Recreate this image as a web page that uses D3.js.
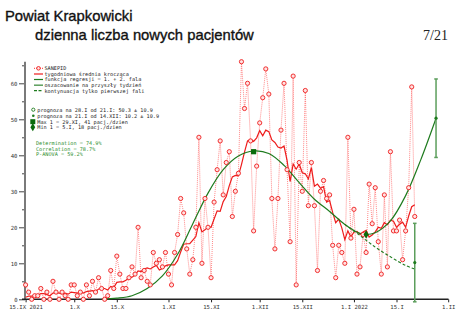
<!DOCTYPE html>
<html>
<head>
<meta charset="utf-8">
<script src="https://cdn.jsdelivr.net/npm/d3@7"></script>
<style>
  html, body { margin: 0; padding: 0; background: #fff; }
  svg { display: block; }
</style>
</head>
<body>
<svg id="chart" width="468" height="328"></svg>
<script>
// Daily new patients reported by SANEPID, starting 15.IX 2021 (one value per day)
const startDate = new Date(2021, 8, 15);
const dailyCases = [
  4, 2, 0, 1, 1, 3, 0, 2, 0, 5, 2, 0, 2, 1, 0, 4, 4, 1, 2, 0,
  4, 1, 5, 2, 6, 3, 0, 1, 8, 3, 12, 7, 3, 3, 6, 9, 7, 20, 6, 8,
  5, 4, 13, 10, 11, 9, 13, 7, 4, 13, 18, 28, 24, 14, 7, 11, 20, 45, 10, 28,
  20, 6, 27, 36, 44, 29, 38, 41, 23, 30, 35, 66, 53, 60, 44, 19, 37, 49, 56, 64,
  57, 28, 14, 28, 47, 60, 36, 16, 62, 4, 38, 30, 58, 26, 38, 26, 8, 30, 33, 28,
  29, 15, 6, 15, 13, 10, 45, 17, 25, 7, 9, 18, 13, 32, 21, 31, 16, 7, 29, 9,
  41, 19, 19, 22, 11, 19, 31, 59, 23
];

// Regression curve (first + second wave), day offsets from 15.IX and values
const regressionDays   = [25, 30, 35, 40, 45, 50, 55, 60, 65, 70, 75, 80, 85, 90, 95, 100, 105, 110, 112, 115, 120, 125, 130, 135];
const regressionValues = [0, 0.3, 1.0, 3.0, 6.5, 12.5, 21, 29.5, 36, 39.8, 41.2, 40.5, 37.2, 32.4, 27.8, 24.4, 20.8, 18.3, 18.0, 18.5, 21.8, 28.8, 38.8, 50.3];

// Continuation of the first wave only
const firstWaveDays   = [105, 110, 115, 120, 125, 128];
const firstWaveValues = [20.8, 17.7, 14.5, 11.8, 9.4, 8.4];

// Forecasts with their uncertainty
const forecastDates  = [new Date(2022, 0, 21), new Date(2022, 0, 28)];
const forecastValues = [10.2, 50.3];
const forecastErrors = [10.9, 10.9];

// Extremes of the regression curve
const maxDate = new Date(2021, 10, 29), maxValue = 41;
const minDate = new Date(2022, 0, 5),  minValue = 18;

// Axis ticks
const xTickDates  = [new Date(2021, 8, 15), new Date(2021, 9, 1), new Date(2021, 9, 15), new Date(2021, 10, 1),
                     new Date(2021, 10, 15), new Date(2021, 11, 1), new Date(2021, 11, 15), new Date(2022, 0, 1),
                     new Date(2022, 0, 15), new Date(2022, 1, 1)];
const xTickLabels = ["15.IX 2021", "1.X", "15.X", "1.XI", "15.XI", "1.XII", "15.XII", "1.I 2022", "15.I", "1.II"];
const yMajorTicks = [0, 10, 20, 30, 40, 50, 60];
const yMinorTicks = [5, 15, 25, 35, 45, 55, 65];

// Legend and statistics texts
const legendLines = ["SANEPID", "tygodniowa średnia krocząca", "funkcja regresji = 1. + 2. fala",
                     "oszacowanie na przyszły tydzień", "kontynuacja tylko pierwszej fali"];
const infoLines = ["prognoza na 28.I od 21.I: 50.3 ± 10.9", "prognoza na 21.I od 14.XII: 10.2 ± 10.9",
                   "Max 1 = 29.XI, 41 pacj./dzien", "Min 1 = 5.I, 18 pacj./dzien"];
const statLines = ["Determination = 74.9%", "Correlation = 78.7%", "P-ANOVA = 59.2%"];

const RED = "#ee1c1c", GREEN = "#1e7b1e", LIGHT_GREEN = "#5c9e5c", STAT_GREEN = "#2f8f2f";
const MONO = "DejaVu Sans Mono, Liberation Mono, monospace";
const SANS = "Liberation Sans, Arial, sans-serif";

const svg = d3.select("#chart");
const dayToDate = d => d3.timeDay.offset(startDate, d);

const x = d3.scaleTime().domain([new Date(2021, 8, 15), new Date(2022, 1, 1)]).range([25.6, 448.2]);
const y = d3.scaleLinear().domain([0, 66]).range([299.3, 61.7]);

// Titles
svg.append("text").attr("x", 5).attr("y", 21)
  .attr("font-family", SANS).attr("font-size", 14.8).attr("fill", "#111")
  .attr("stroke", "#111").attr("stroke-width", 0.35)
  .text("Powiat Krapkowicki");
svg.append("text").attr("x", 35).attr("y", 39.5)
  .attr("font-family", SANS).attr("font-size", 14.8).attr("fill", "#111")
  .attr("stroke", "#111").attr("stroke-width", 0.35)
  .text("dzienna liczba nowych pacjentów");
svg.append("text").attr("x", 448).attr("y", 39.5).attr("text-anchor", "end")
  .attr("font-family", "Liberation Serif, serif").attr("font-size", 14).attr("fill", "#222")
  .text("7/21");

// Y axis (grey spine, major and minor ticks)
const yAxisG = svg.append("g").attr("transform", "translate(25,0)")
  .call(d3.axisLeft(y).tickValues(yMajorTicks).tickSize(6).tickPadding(1.5));
yAxisG.select(".domain").remove();
yAxisG.selectAll(".tick line").attr("stroke", "#444");
yAxisG.selectAll(".tick text").attr("font-size", 5.6).attr("fill", "#333").attr("font-family", MONO);
const yMinorG = svg.append("g").attr("transform", "translate(25,0)")
  .call(d3.axisLeft(y).tickValues(yMinorTicks).tickSize(3).tickFormat(""));
yMinorG.select(".domain").remove();
yMinorG.selectAll(".tick line").attr("stroke", "#444");
svg.append("line").attr("x1", 25).attr("x2", 25).attr("y1", y(0)).attr("y2", y(66))
  .attr("stroke", "#7a7a7a").attr("stroke-width", 2);

// X axis
const xAxisG = svg.append("g").attr("transform", `translate(0,${y(0)})`)
  .call(d3.axisBottom(x).tickValues(xTickDates).tickFormat((d, i) => xTickLabels[i]).tickSize(3).tickPadding(3));
xAxisG.select(".domain").attr("d", "M22,0H448.5").attr("stroke", "#222").attr("stroke-width", 1.4);
xAxisG.selectAll(".tick line").attr("stroke", "#222");
xAxisG.selectAll(".tick text").attr("font-size", 5.6).attr("fill", "#333").attr("font-family", MONO);

// Daily values: dotted connectors
const daily = dailyCases.map((v, i) => ({ date: dayToDate(i), value: v }));
svg.append("path").datum(daily)
  .attr("d", d3.line().x(d => x(d.date)).y(d => y(d.value)))
  .attr("fill", "none").attr("stroke", "#ff2a2a").attr("stroke-opacity", 0.55)
  .attr("stroke-width", 1).attr("stroke-dasharray", "1 1");

// Weekly (trailing 7-day) moving average
const weekly = dailyCases.map((v, i) => ({
  date: dayToDate(i),
  value: d3.sum(dailyCases.slice(Math.max(0, i - 6), i + 1)) / 7
}));
svg.append("path").datum(weekly)
  .attr("d", d3.line().x(d => x(d.date)).y(d => y(d.value)))
  .attr("fill", "none").attr("stroke", RED).attr("stroke-width", 1.2);

// Regression curve and first-wave continuation
const curve = d3.line().curve(d3.curveCatmullRom).x(d => x(dayToDate(d[0]))).y(d => y(d[1]));
svg.append("path").datum(firstWaveDays.map((d, i) => [d, firstWaveValues[i]]))
  .attr("d", curve).attr("fill", "none").attr("stroke", GREEN).attr("stroke-width", 1.1)
  .attr("stroke-dasharray", "3 2");
svg.append("path").datum(regressionDays.map((d, i) => [d, regressionValues[i]]))
  .attr("d", curve).attr("fill", "none").attr("stroke", GREEN).attr("stroke-width", 1.2);

// Daily markers
svg.append("g").selectAll("circle").data(daily).join("circle")
  .attr("cx", d => x(d.date)).attr("cy", d => y(d.value)).attr("r", 2.1)
  .attr("fill", "#ffe2e2").attr("stroke", RED).attr("stroke-width", 0.9);

// Forecast error bars
forecastDates.forEach((dt, i) => {
  const cx = x(dt), lo = y(forecastValues[i] - forecastErrors[i]), hi = y(forecastValues[i] + forecastErrors[i]);
  const g = svg.append("g").attr("stroke", LIGHT_GREEN).attr("stroke-width", 1.5);
  g.append("line").attr("x1", cx).attr("x2", cx).attr("y1", lo).attr("y2", hi);
  g.append("line").attr("x1", cx - 1.8).attr("x2", cx + 1.8).attr("y1", lo).attr("y2", lo);
  g.append("line").attr("x1", cx - 1.8).attr("x2", cx + 1.8).attr("y1", hi).attr("y2", hi);
  svg.append("circle").attr("cx", cx).attr("cy", y(forecastValues[i])).attr("r", 1.6).attr("fill", GREEN);
});

// Max and min of the regression
svg.append("rect").attr("x", x(maxDate) - 2.6).attr("y", y(maxValue) - 2.6)
  .attr("width", 5.2).attr("height", 5.2).attr("fill", "#0b6b0b");
svg.append("path").attr("d", d3.symbol(d3.symbolDiamond, 22)())
  .attr("transform", `translate(${x(minDate)},${y(minValue)})`).attr("fill", "#0b6b0b");

// Legend: series
const lg = svg.append("g").attr("font-family", MONO).attr("font-size", 5.2).attr("fill", "#222");
const rowsY = [68.3, 74, 79.5, 85.2, 90.7];
lg.append("line").attr("x1", 34).attr("x2", 43).attr("y1", rowsY[0]).attr("y2", rowsY[0])
  .attr("stroke", "#ff2a2a").attr("stroke-dasharray", "1 1");
lg.append("circle").attr("cx", 38.5).attr("cy", rowsY[0]).attr("r", 1.8)
  .attr("fill", "#ffe2e2").attr("stroke", RED).attr("stroke-width", 0.9);
lg.append("line").attr("x1", 34).attr("x2", 43).attr("y1", rowsY[1]).attr("y2", rowsY[1])
  .attr("stroke", RED).attr("stroke-width", 1.2);
lg.append("line").attr("x1", 34).attr("x2", 43).attr("y1", rowsY[2]).attr("y2", rowsY[2])
  .attr("stroke", GREEN).attr("stroke-width", 1.2);
lg.append("line").attr("x1", 34).attr("x2", 43).attr("y1", rowsY[3]).attr("y2", rowsY[3])
  .attr("stroke", LIGHT_GREEN).attr("stroke-width", 1.5);
lg.append("line").attr("x1", 34).attr("x2", 43).attr("y1", rowsY[4]).attr("y2", rowsY[4])
  .attr("stroke", GREEN).attr("stroke-width", 1.2).attr("stroke-dasharray", "3 1.5");
legendLines.forEach((t, i) => lg.append("text").attr("x", 44.5).attr("y", rowsY[i] + 1.8).text(t));

// Legend: forecasts and extremes
const infoY = [109.7, 115.8, 121.7, 127.2];
lg.append("circle").attr("cx", 33.3).attr("cy", infoY[0]).attr("r", 1.6)
  .attr("fill", "none").attr("stroke", GREEN).attr("stroke-width", 0.9);
lg.append("circle").attr("cx", 33.3).attr("cy", infoY[1]).attr("r", 1.3).attr("fill", GREEN);
lg.append("rect").attr("x", 30.3).attr("y", infoY[2] - 2.5).attr("width", 5).attr("height", 5).attr("fill", "#0b6b0b");
lg.append("path").attr("d", d3.symbol(d3.symbolDiamond, 20)())
  .attr("transform", `translate(32.8,${infoY[3]})`).attr("fill", "#0b6b0b");
infoLines.forEach((t, i) => lg.append("text").attr("x", 37.3).attr("y", infoY[i] + 1.8).text(t));

// Fit statistics
const statY = [143.3, 148.8, 154.4];
statLines.forEach((t, i) => lg.append("text").attr("x", 36).attr("y", statY[i] + 1.8)
  .attr("fill", STAT_GREEN).text(t));
</script>
</body>
</html>
